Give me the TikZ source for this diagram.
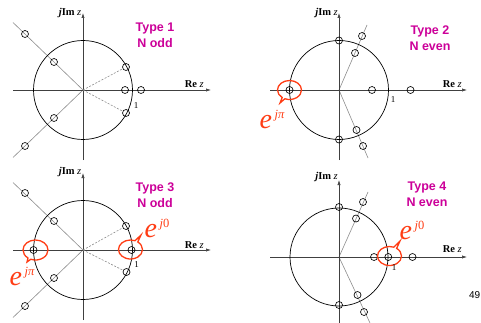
\documentclass[tikz,border=0pt]{standalone}
\usepackage{fontspec}
\setmainfont{Liberation Serif}
\newfontfamily\arialb{Liberation Sans}
\usetikzlibrary{arrows.meta,shapes.callouts,shapes.geometric}
\definecolor{typemag}{RGB}{204,0,153}
\definecolor{callred}{RGB}{255,60,20}
\newcommand{\expjpi}{{\fontsize{28}{28}\selectfont\itshape e}\kern2.5pt\raisebox{10pt}{\fontsize{12.5}{12.5}\selectfont\itshape jπ}}
\newcommand{\expjzero}{{\fontsize{28}{28}\selectfont\itshape e}\kern2.5pt\raisebox{10pt}{\fontsize{12.5}{12.5}\selectfont\itshape j\upshape 0}}
\tikzset{
 axis/.style={draw=black!75, line width=0.6pt, -{Latex[length=5pt,width=3.2pt]}},
 ucirc/.style={draw=black, line width=0.7pt},
 zero/.style={circle, draw=black, line width=0.65pt, minimum size=7pt, inner sep=0pt},
 radial/.style={draw=black!45, line width=0.6pt},
 dashray/.style={draw=black!45, line width=0.6pt, dash pattern=on 2pt off 1.5pt},
 typelbl/.style={font=\arialb\bfseries\fontsize{12.5}{16}\selectfont, text=typemag, align=center, inner sep=0pt},
 axlbl/.style={font=\fontsize{10.5}{10.5}\selectfont, inner sep=0pt},
 onelbl/.style={font=\fontsize{9}{9}\selectfont, inner sep=0pt},
 bubble/.style={ellipse callout, draw=callred, line width=1.3pt, minimum width=24pt, minimum height=19pt, inner sep=0pt},
 expo/.style={text=callred, inner sep=0pt},
}
\begin{document}
\begin{tikzpicture}[x=1pt,y=-1pt]
\useasboundingbox (0,0) rectangle (481,323);
% ---------- Panel 1 ----------
\coordinate (aO) at (83,90);
\coordinate (aL) at (13,90); \coordinate (aR) at (211,90);
\coordinate (aB) at (83,160); \coordinate (aT) at (83,13);
\coordinate (aUL) at (13,22.5); \coordinate (aLL) at (13,157.5);
\draw[radial] (aUL) -- (aO) -- (aLL);
\draw[axis] (aL) -- (aR);
\draw[axis] (aB) -- (aT);
\draw[ucirc] (aO) circle[radius=49.5];
\node[zero] (a1) at (25,34) {};
\node[zero] (a2) at (54,62) {};
\node[zero] (a3) at (126,67) {};
\node[zero] (a4) at (125,90) {};
\node[zero] (a5) at (141,90) {};
\node[zero] (a6) at (126,113) {};
\node[zero] (a7) at (54,118) {};
\node[zero] (a8) at (25,146) {};
\draw[dashray] (aO) -- (a3);
\draw[dashray] (aO) -- (a6);
\node[axlbl, anchor=base east] (aIm) at (81.5,15.5) {\textbf{\textit{j}Im} \textit{z}};
\node[axlbl, anchor=base east] (aRe) at (204,88) {\textbf{Re} \textit{z}};
\node[onelbl] (aOne) at (136,106) {1};
\node[typelbl] (aType) at (155,35) {Type 1\\N odd};
% ---------- Panel 2 ----------
\coordinate (bO) at (339,90);
\coordinate (bL) at (270,90); \coordinate (bR) at (467,90);
\coordinate (bB) at (339,160); \coordinate (bT) at (339,13);
\coordinate (bUR) at (367,25); \coordinate (bLR) at (368,158);
\draw[radial] (bUR) -- (bO) -- (bLR);
\draw[axis] (bL) -- (bR);
\draw[axis] (bB) -- (bT);
\draw[ucirc] (bO) circle[radius=49.5];
\node[zero] (b1) at (339,40.5) {};
\node[zero] (b2) at (355,53) {};
\node[zero] (b3) at (362,36) {};
\node[zero] (b4) at (289.5,90) {};
\node[zero] (b5) at (372,90) {};
\node[zero] (b6) at (410.5,90) {};
\node[zero] (b7) at (356.5,130) {};
\node[zero] (b8) at (363,146) {};
\node[zero] (b9) at (339,139.5) {};
\node[bubble, callout absolute pointer={(280,103)}] (bBub) at (289.5,90) {};
\node[expo] (bExp) at (272,119) {\expjpi};
\node[axlbl, anchor=base east] (bIm) at (338,15.5) {\textbf{\textit{j}Im} \textit{z}};
\node[axlbl, anchor=base east] (bRe) at (462,88) {\textbf{Re} \textit{z}};
\node[onelbl] (bOne) at (393,100) {1};
\node[typelbl] (bType) at (430,38) {Type 2\\N even};
% ---------- Panel 3 ----------
\coordinate (cO) at (83,250);
\coordinate (cL) at (13,250); \coordinate (cR) at (211,250);
\coordinate (cB) at (83,320); \coordinate (cT) at (83,173);
\coordinate (cUL) at (13,182.5); \coordinate (cLL) at (13,317.5);
\draw[radial] (cUL) -- (cO) -- (cLL);
\draw[axis] (cL) -- (cR);
\draw[axis] (cB) -- (cT);
\draw[ucirc] (cO) circle[radius=49.5];
\node[zero] (c1) at (25,193) {};
\node[zero] (c2) at (54,221) {};
\node[zero] (c3) at (126,226) {};
\node[zero] (c4) at (33.5,250) {};
\node[zero] (c5) at (131.5,250) {};
\node[zero] (c6) at (126.5,272) {};
\node[zero] (c7) at (54,278) {};
\node[zero] (c8) at (25,306) {};
\draw[dashray] (cO) -- (c3);
\draw[dashray] (cO) -- (c6);
\node[bubble, minimum width=25pt, minimum height=20pt, callout absolute pointer={(27,262)}] (cBub1) at (35.5,250) {};
\node[bubble, callout absolute pointer={(141,235)}] (cBub2) at (130.5,249.5) {};
\node[expo] (cExp1) at (22,276) {\expjpi};
\node[expo] (cExp2) at (157,228) {\expjzero};
\node[axlbl, anchor=base east] (cIm) at (81.5,175) {\textbf{\textit{j}Im} \textit{z}};
\node[axlbl, anchor=base east] (cRe) at (204,248) {\textbf{Re} \textit{z}};
\node[onelbl] (cOne) at (136.5,265) {1};
\node[typelbl] (cType) at (155,195) {Type 3\\N odd};
% ---------- Panel 4 ----------
\coordinate (dO) at (339,257);
\coordinate (dL) at (270,257); \coordinate (dR) at (467,257);
\coordinate (dB) at (339,323); \coordinate (dT) at (339,180);
\coordinate (dUR) at (368,192); \coordinate (dLR) at (370,323);
\draw[radial] (dUR) -- (dO) -- (dLR);
\draw[axis] (dL) -- (dR);
\draw[axis] (dB) -- (dT);
\draw[ucirc] (dO) circle[radius=49];
\node[zero] (d1) at (339,207) {};
\node[zero] (d2) at (356,218.5) {};
\node[zero] (d3) at (363,202) {};
\node[zero] (d4) at (374,257) {};
\node[zero] (d5) at (388.3,257) {};
\node[zero] (d6) at (412.5,257) {};
\node[zero] (d7) at (357.5,295) {};
\node[zero] (d8) at (364,312) {};
\node[zero] (d9) at (339,305) {};
\node[bubble, callout absolute pointer={(400,241)}] (dBub) at (389.5,256) {};
\node[expo] (dExp) at (412,230) {\expjzero};
\node[axlbl, anchor=base east] (dIm) at (338,179.5) {\textbf{\textit{j}Im} \textit{z}};
\node[axlbl, anchor=base east] (dRe) at (462,252.5) {\textbf{Re} \textit{z}};
\node[onelbl] (dOne) at (394,268) {1};
\node[typelbl] (dType) at (427,194) {Type 4\\N even};
% page number
\node[font=\arialb\fontsize{10}{10}\selectfont, anchor=base east, inner sep=0pt] (pg) at (480.5,298.5) {49};
\end{tikzpicture}
\end{document}
